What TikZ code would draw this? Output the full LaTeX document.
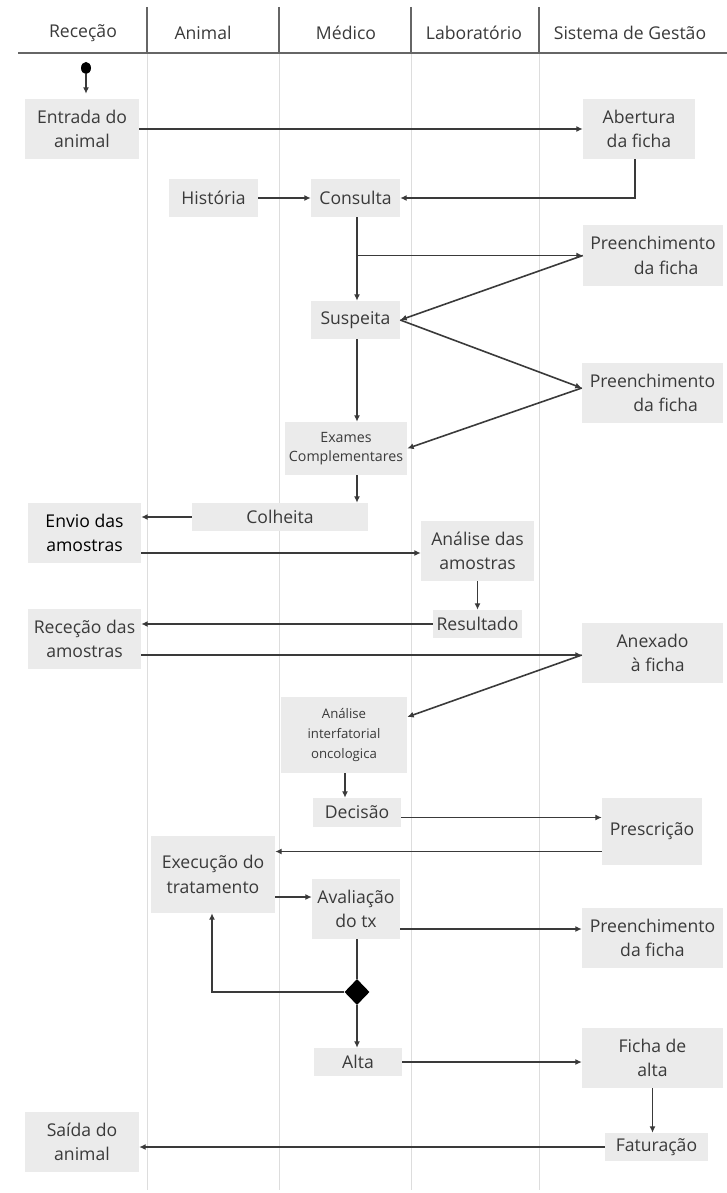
\documentclass[tikz,border=0pt]{standalone}
\usepackage{fontspec}
\setmainfont{Open Sans}
\usetikzlibrary{arrows.meta,shapes.geometric}
\definecolor{boxgray}{HTML}{EBEBEB}
\definecolor{lanegray}{HTML}{DDDDDD}
\definecolor{headline}{HTML}{666666}
\definecolor{ink}{HTML}{3A3A3A}
\begin{document}
\begin{tikzpicture}[x=1pt,y=-1pt,
  box/.style={fill=boxgray, inner sep=0pt, align=center, text=ink,
    font=\fontsize{17.6}{24.5}\selectfont},
  smallbox/.style={box, font=\fontsize{14.2}{19}\selectfont},
  tinybox/.style={box, font=\fontsize{13.2}{20}\selectfont},
  head/.style={text=ink, font=\fontsize{17.6}{20}\selectfont, inner sep=0pt},
  flow/.style={draw=ink, line width=1.6pt, -{Latex[length=6.5pt,width=6pt]}},
  link/.style={draw=ink, line width=1.6pt},
  lane/.style={draw=lanegray, line width=1pt},
  headrule/.style={draw=headline, line width=1.5pt}]
\useasboundingbox (0,0) rectangle (727,1193);

% lanes
\foreach \lx in {147,279,411,539}{
  \draw[lane] (\lx,53) -- (\lx,1190);
  \draw[headrule] (\lx,7) -- (\lx,53);
}
\draw[headrule, line width=2.2pt] (18,53) -- (727,53);

% headers
\node[head] (hrec) at (83,33) {Receção};
\node[head] (hani) at (203,33) {Animal};
\node[head] (hmed) at (346,33) {Médico};
\node[head] (hlab) at (474,33) {Laboratório};
\node[head] (hsis) at (630,33) {Sistema de Gestão};

% start
\node[ellipse, fill=black, inner sep=0pt, minimum width=10pt, minimum height=12pt] (start) at (86,68) {};

% boxes
\node[box, minimum width=114pt, minimum height=60pt] (entrada) at (82,129) {Entrada do\\animal};
\node[box, minimum width=112pt, minimum height=60pt] (abertura) at (639,129) {Abertura\\da ficha};
\node[box, minimum width=89pt, minimum height=38pt] (historia) at (213.5,198) {História};
\node[box, minimum width=89pt, minimum height=38pt] (consulta) at (355.5,198) {Consulta};
\node[box, minimum width=140pt, minimum height=61pt] (preenA) at (653,255.5) {Preenchimento\\\hspace*{1.5em}da ficha};
\node[box, minimum width=89pt, minimum height=38pt] (suspeita) at (355.5,320) {Suspeita};
\node[box, minimum width=141pt, minimum height=60pt] (preenB) at (652.5,393) {Preenchimento\\\hspace*{1.5em}da ficha};
\node[smallbox, minimum width=122pt, minimum height=53pt] (exames) at (346,448.5) {Exames\\Complementares};
\node[box, minimum width=176pt, minimum height=28pt] (colheita) at (280,517) {Colheita};
\node[box, minimum width=113pt, minimum height=60pt, text=black] (envio) at (84.5,533) {Envio das\\amostras};
\node[box, minimum width=113pt, minimum height=60pt] (analise) at (477.5,551) {Análise das\\amostras};
\node[box, minimum width=89pt, minimum height=28pt] (resultado) at (477.5,624) {Resultado};
\node[box, minimum width=113pt, minimum height=60pt] (rececao) at (84.5,639) {Receção das\\amostras};
\node[box, minimum width=141pt, minimum height=60pt] (anexado) at (652.5,653) {Anexado\\\hspace*{0.6em}à ficha};
\node[tinybox, minimum width=126pt, minimum height=76pt] (interf) at (344,735) {Análise\\interfatorial\\oncologica};
\node[box, minimum width=88pt, minimum height=29pt] (decisao) at (357,812.5) {Decisão};
\node[box, minimum width=100pt, minimum height=67pt] (prescricao) at (652,831.5) {Prescrição};
\node[box, minimum width=124pt, minimum height=77pt] (execucao) at (213,874.5) {Execução do\\tratamento};
\node[box, minimum width=88pt, minimum height=60pt] (avaliacao) at (356,909) {Avaliação\\do tx};
\node[box, minimum width=141pt, minimum height=60pt] (preenC) at (652.5,938) {Preenchimento\\da ficha};
\node[diamond, fill=black, inner sep=0pt, minimum width=25pt, minimum height=26pt] (decide) at (357,992) {};
\node[box, minimum width=88pt, minimum height=28pt] (alta) at (358,1062) {Alta};
\node[box, minimum width=141pt, minimum height=60pt] (fichaalta) at (652.5,1058) {Ficha de\\alta};
\node[box, minimum width=103pt, minimum height=28pt] (faturacao) at (656.5,1147) {Faturação};
\node[box, minimum width=114pt, minimum height=60pt] (saida) at (82,1142) {Saída do\\animal};

% connectors
\draw[flow, shorten >=5pt] (start) -- (start |- entrada.north);
\draw[flow] (entrada.east) -- (abertura.west);
\draw[flow] (historia) -- (consulta);
\draw[flow] ([xshift=-4pt]abertura.south) |- (consulta.east);
\draw[flow] ([xshift=1.5pt]consulta.south) -- ([xshift=1.5pt]suspeita.north);
\coordinate (branch) at ([xshift=1.5pt]consulta.south |- preenA.west);
\draw[flow] (branch) -- (preenA.west);
\draw[flow] (preenA.west) -- (suspeita.east);
\draw[flow] (suspeita.east) -- ([yshift=5pt]preenB.west);
\draw[flow] ([yshift=5pt]preenB.west) -- (exames.east);
\draw[flow] ([xshift=1.5pt]suspeita.south) -- ([xshift=1.5pt]suspeita.south |- exames.north);
\draw[flow] ([xshift=1.5pt]suspeita.south |- exames.south) -- ([xshift=1.5pt]suspeita.south |- colheita.north);
\draw[flow] (colheita.west) -- (colheita.west -| envio.east);
\draw[flow] ([yshift=-2pt]analise.west -| envio.east) -- ([yshift=-2pt]analise.west);
\draw[flow] (analise.south) -- (resultado.north);
\draw[flow] (resultado.west) -- (resultado.west -| rececao.east);
\draw[flow] ([yshift=-2pt]anexado.west -| rececao.east) -- ([yshift=-2pt]anexado.west);
\draw[flow] ([yshift=-2pt]anexado.west) -- ([yshift=18pt]interf.east);
\draw[flow] ([xshift=1pt]interf.south) -- ([xshift=1pt]interf.south |- decisao.north);
\draw[flow] ([yshift=-5pt]decisao.east) -- ([yshift=-5pt]decisao.east -| prescricao.west);
\draw[flow] ([yshift=-20pt]prescricao.west) -- ([yshift=-20pt]prescricao.west -| execucao.east);
\draw[flow] ([yshift=12pt]avaliacao.west -| execucao.east) -- ([yshift=12pt]avaliacao.west);
\draw[flow] ([yshift=9pt]preenC.west -| avaliacao.east) -- ([yshift=9pt]preenC.west);
\draw[link] ([xshift=1pt]avaliacao.south) -- (decide.north);
\draw[flow] (decide.west) -| ([xshift=-1pt]execucao.south);
\draw[flow] (decide.south) -- (decide.south |- alta.north);
\draw[flow] (alta.east) -- (alta.east -| fichaalta.west);
\draw[flow] (fichaalta.south) -- (fichaalta.south |- faturacao.north);
\draw[flow] (faturacao.west) -- (faturacao.west -| saida.east);
\end{tikzpicture}
\end{document}
